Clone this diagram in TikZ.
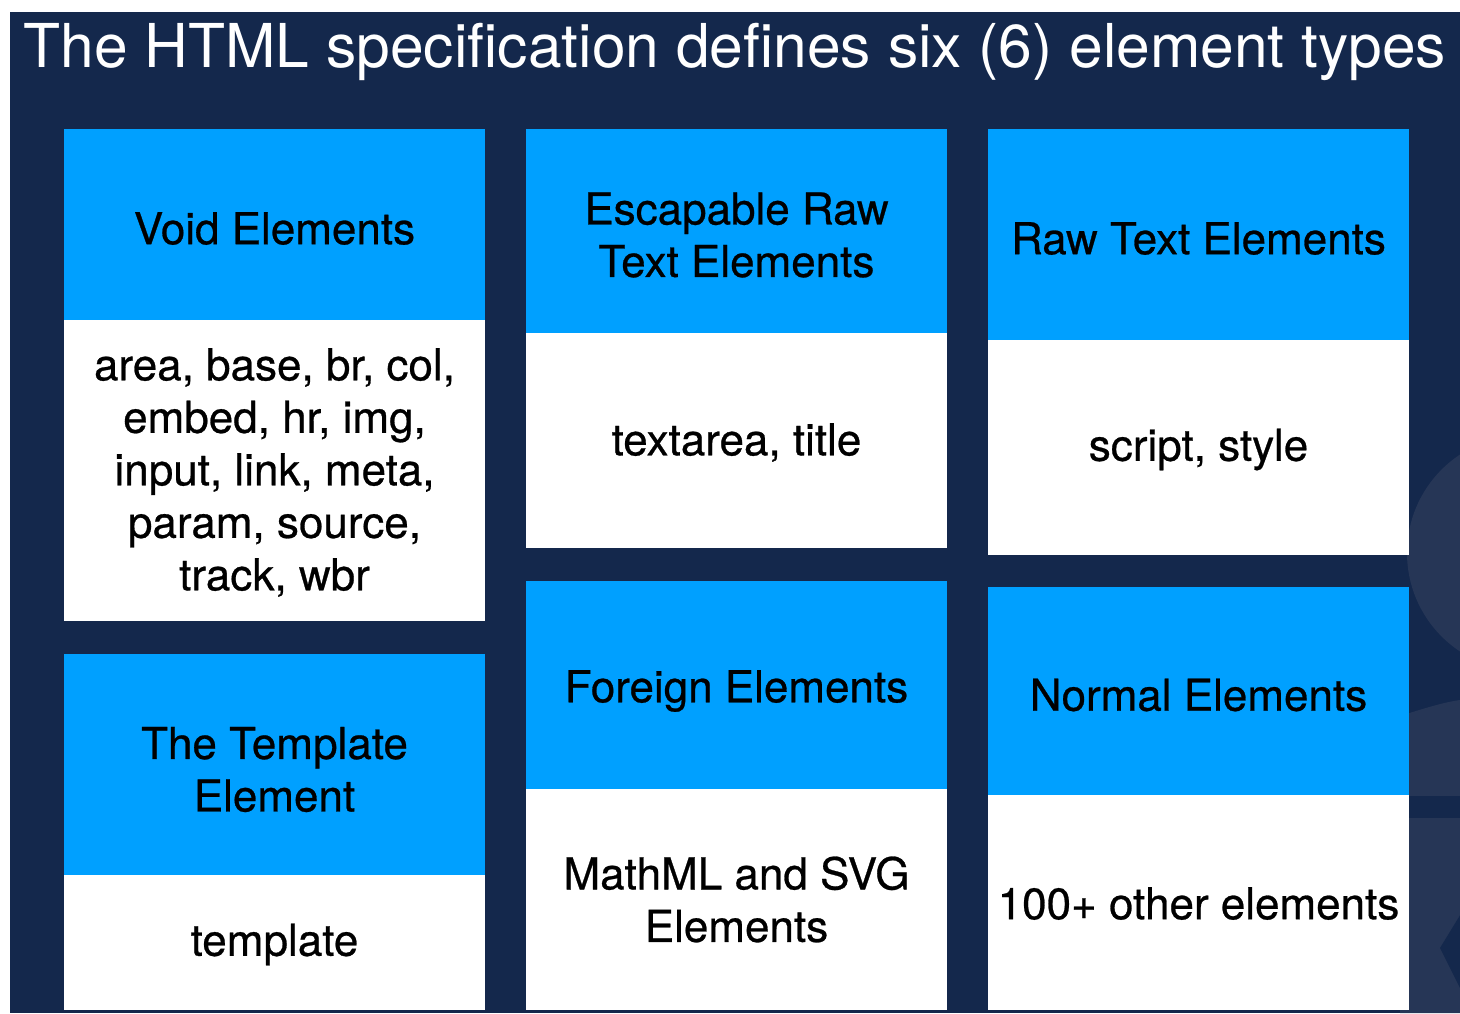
\documentclass[tikz,border=0pt]{standalone}
\usepackage{fontspec}
\setmainfont{TeX Gyre Heros}[BoldFont={TeX Gyre Heros},BoldFeatures={FakeBold=0.6}]
\definecolor{navy}{RGB}{20,40,76}
\definecolor{navylight}{RGB}{38,54,86}
\definecolor{hblue}{RGB}{0,160,255}
\begin{document}
\begin{tikzpicture}[x=1pt,y=-1pt,
  box/.style={inner sep=0pt,minimum width=421pt},
  hdr/.style={box,fill=hblue},
  bdy/.style={box,fill=white},
  txt/.style={inner sep=0pt,align=center,text=black,
    font=\fontsize{44}{52.5}\selectfont\bfseries}]
\useasboundingbox (0,0) rectangle (1460,1013);
\fill[white] (0,0) rectangle (1460,1013);
\fill[navy] (10,12) rectangle (1460,1013);
% faint background decoration
\begin{scope}
\clip (10,12) rectangle (1460,1013);
\fill[navylight] (1525,553) circle (118);
\fill[navylight] (1400,1013) -- (1400,716) .. controls (1425,708) and (1445,702) .. (1460,700) -- (1460,1013) -- cycle;
\fill[navy] (1400,796) rectangle (1460,818);
\fill[navy] (1440,948) -- (1462,912) -- (1462,992) -- cycle;
\end{scope}
\node[text=white,font=\fontsize{60.5}{70}\selectfont,inner sep=0pt] (title) at (735,52) {The HTML specification defines six (6) element types};
% column 1
\node[hdr,minimum height=191pt] (voidh) at (274.5,224.5) {};
\node[bdy,minimum height=301pt] (voidb) at (274.5,470.5) {};
\node[hdr,minimum height=221pt] (temph) at (274.5,764.5) {};
\node[bdy,minimum height=135pt] (tempb) at (274.5,942.5) {};
% column 2
\node[hdr,minimum height=204pt] (esch) at (736.5,231) {};
\node[bdy,minimum height=215pt] (escb) at (736.5,440.5) {};
\node[hdr,minimum height=208pt] (forh) at (736.5,685) {};
\node[bdy,minimum height=221pt] (forb) at (736.5,899.5) {};
% column 3
\node[hdr,minimum height=211pt] (rawh) at (1198.5,234.5) {};
\node[bdy,minimum height=215pt] (rawb) at (1198.5,447.5) {};
\node[hdr,minimum height=208pt] (normh) at (1198.5,691) {};
\node[bdy,minimum height=215pt] (normb) at (1198.5,902.5) {};
% texts
\node[txt] (voidht) at ([yshift=-4pt]voidh.center) {Void Elements};
\node[txt] (voidbt) at ([yshift=-2pt]voidb.center) {area, base, br, col,\\embed, hr, img,\\input, link, meta,\\param, source,\\track, wbr};
\node[txt] (tempht) at ([yshift=-5pt]temph.center) {The Template\\Element};
\node[txt] (tempbt) at ([yshift=-2pt]tempb.center) {template};
\node[txt] (escht) at ([yshift=-4pt]esch.center) {Escapable Raw\\Text Elements};
\node[txt] (escbt) at ([yshift=-2pt]escb.center) {textarea, title};
\node[txt] (forht) at ([yshift=-6pt]forh.center) {Foreign Elements};
\node[txt] (forbt) at ([yshift=0pt]forb.center) {MathML and SVG\\Elements};
\node[txt] (rawht) at ([yshift=-4pt]rawh.center) {Raw Text Elements};
\node[txt] (rawbt) at ([yshift=-2pt]rawb.center) {script, style};
\node[txt] (normht) at ([yshift=-4pt]normh.center) {Normal Elements};
\node[txt] (normbt) at ([yshift=-1pt]normb.center) {100+ other elements};
\end{tikzpicture}
\end{document}
